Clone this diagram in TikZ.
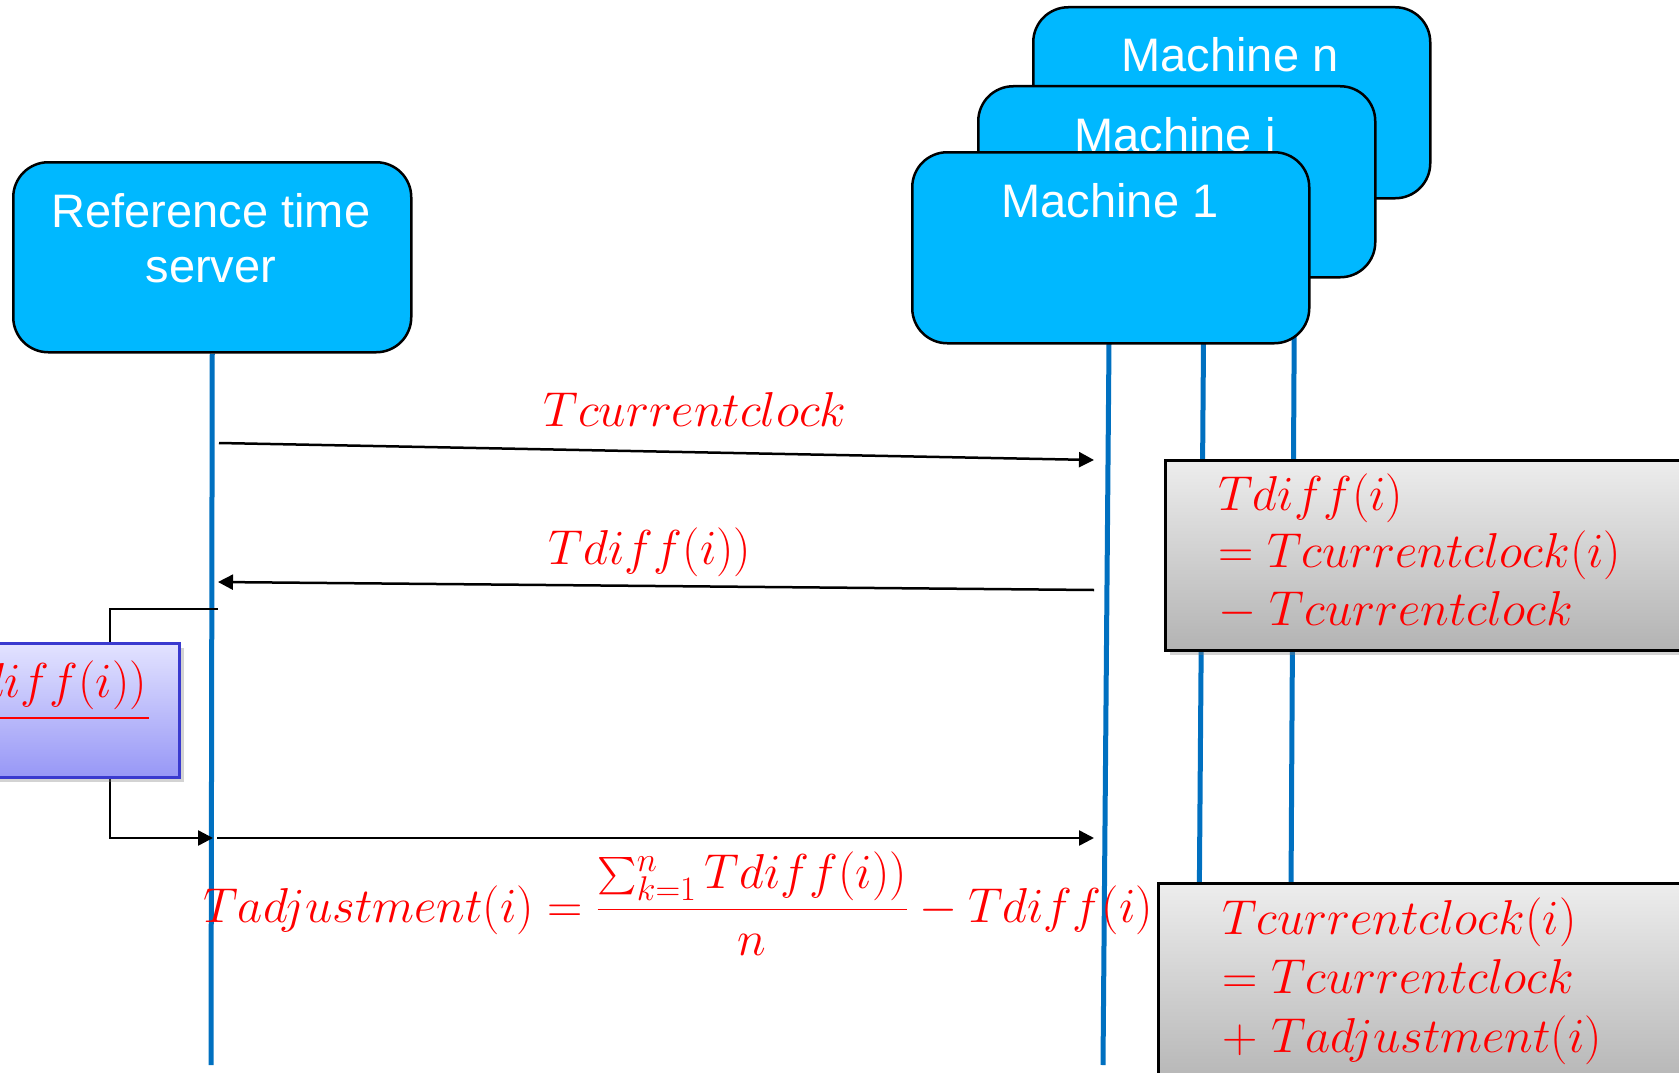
\RequirePackage{fix-cm}
\documentclass[tikz,border=0pt]{standalone}
\usepackage{amsmath}
\usepackage{exscale}
\usepackage{graphicx}
\usepackage{fontspec}
\newfontfamily\arialfont{Liberation Sans}
\usetikzlibrary{arrows.meta,shadows}

% summation sign sized like the surrounding italic letters
\newcommand{\tsum}{\mathop{\vcenter{\hbox{\scalebox{1.5}{$\textstyle\sum$}}}}\nolimits}

\definecolor{boxblue}{HTML}{00B8FF}
\definecolor{lifeblue}{HTML}{0070C0}
\definecolor{mathred}{HTML}{FF0000}
\definecolor{graytop}{HTML}{EDEDED}
\definecolor{graybot}{HTML}{B3B3B3}
\definecolor{violtop}{HTML}{E3E3FF}
\definecolor{violbot}{HTML}{9797F6}
\definecolor{violedge}{HTML}{3A3ACF}

\pgfdeclarelayer{bg}
\pgfsetlayers{bg,main}

\tikzset{
  actor/.style={draw=black, line width=2.5pt, fill=boxblue, rounded corners=35pt,
    anchor=north west, inner sep=0pt, minimum width=397pt, minimum height=191pt},
  actorlabel/.style={anchor=base, inner sep=0pt, text=white,
    font=\arialfont\fontsize{47}{56}\selectfont},
  lifeline/.style={draw=lifeblue, line width=5pt},
  msg/.style={draw=black, line width=2.5pt, -{Triangle[length=15pt,width=15pt]}},
  notebox/.style={draw=black, line width=2.5pt, anchor=north west, inner sep=0pt,
    top color=graytop, bottom color=graybot,
    drop shadow={shadow xshift=5pt, shadow yshift=-5pt, opacity=0.35}},
  calcbox/.style={draw=violedge, line width=2.5pt, anchor=north west, inner sep=0pt,
    top color=violtop, bottom color=violbot,
    drop shadow={shadow xshift=5pt, shadow yshift=-5pt, opacity=0.35}},
  eq/.style={inner sep=0pt, text=mathred, font=\fontsize{49}{58}\selectfont},
}

\begin{document}
\begin{tikzpicture}[x=1pt,y=-1pt]
\useasboundingbox (0,0) rectangle (1679,1073);

% participants, stacked from back to front
\node[actor] (mn) at (1032,6) {};
\node[actorlabel] (mnl) at (1230,72) {Machine n};
\node[actor] (mi) at (977,85) {};
\node[actorlabel] (mil) at (1175,151) {Machine i};
\node[actor] (m1) at (911,151) {};
\node[actorlabel] (m1l) at (1110,217) {Machine 1};
\node[actor, minimum width=398pt, minimum height=190pt] (ref) at (12,161) {};
\node[actorlabel] (refa) at (211,227) {Reference time};
\node[actorlabel] (refb) at (211,282) {server};

% lifelines
\coordinate (refend) at (211,1065);
\coordinate (m1top) at (1109,343);
\coordinate (m1end) at (1103,1065);
\coordinate (mitop) at (1204,277);
\coordinate (miend) at (1198,1065);
\coordinate (mntop) at (1295,198);
\coordinate (mnend) at (1290,1065);
\begin{pgfonlayer}{bg}
  \draw[lifeline] (ref.south) -- (refend);
  \draw[lifeline] (m1top) -- (m1end);
  \draw[lifeline] (mitop) -- (miend);
  \draw[lifeline] (mntop) -- (mnend);
\end{pgfonlayer}

% messages
\coordinate (a1s) at (219,443);
\coordinate (a1e) at (1094,460);
\coordinate (a2s) at (1094,590);
\coordinate (a2e) at (218,582);
\coordinate (l0) at (218,609);
\coordinate (l1) at (110,609);
\coordinate (l2) at (110,838);
\coordinate (l3) at (213,838);
\coordinate (a3s) at (217,838);
\coordinate (a3e) at (1094,838);

\draw[msg] (a1s) -- (a1e);
\draw[msg] (a2s) -- (a2e);
\draw[msg] (l0) -- (l1) -- (l2) -- (l3);
\draw[msg] (a3s) -- (a3e);

\node[eq, anchor=base] (lab1) at (695,426) {$Tcurrentclock$};
\node[eq, anchor=base] (lab2) at (650,564) {$Tdiff(i))$};

% averaging step on the server
\node[calcbox, minimum width=238pt, minimum height=134pt] (avg) at (-60,642) {};
\node[eq, anchor=base east] (avgtxt) at (147,697) {$\tsum_{k=1}^{n}Tdiff(i))$};
\draw[mathred, line width=2.5pt] (avgtxt.south west |- 0,718) -- (149,718);

% adjustment formula
\node[eq, anchor=base west] (adj) at (203,922)
  {$\displaystyle Tadjustment(i)=\frac{\tsum_{k=1}^{n}Tdiff(i))}{n}-Tdiff(i)$};

% notes on the machine side
\node[notebox, minimum width=540pt, minimum height=190pt] (note1) at (1164,459) {};
\node[eq, anchor=base west] (n1a) at (1218,510) {$Tdiff(i)$};
\node[eq, anchor=base west] (n1b) at (1218,567) {$=Tcurrentclock(i)$};
\node[eq, anchor=base west] (n1c) at (1218,625) {$-\;Tcurrentclock$};

\node[notebox, minimum width=550pt, minimum height=210pt] (note2) at (1157,882) {};
\node[eq, anchor=base west] (n2a) at (1222,934) {$Tcurrentclock(i)$};
\node[eq, anchor=base west] (n2b) at (1222,993) {$=Tcurrentclock$};
\node[eq, anchor=base west] (n2c) at (1222,1052) {$+\;Tadjustment(i)$};
\end{tikzpicture}
\end{document}
